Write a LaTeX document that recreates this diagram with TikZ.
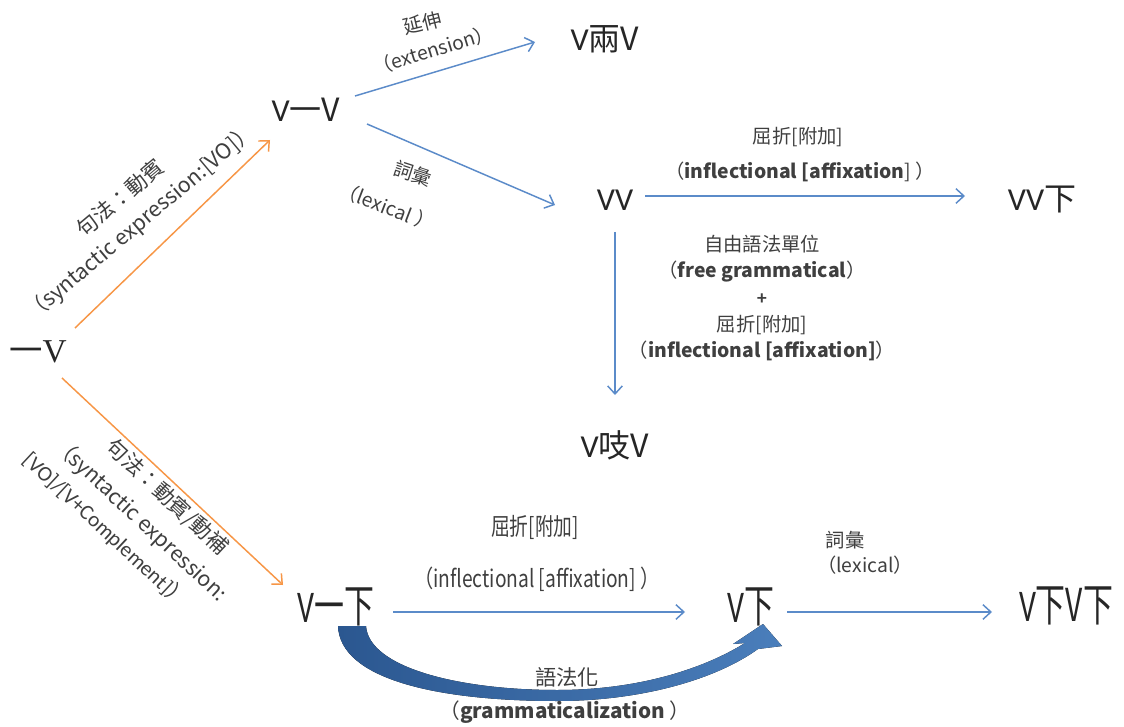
\documentclass[tikz,border=0pt]{standalone}
\usepackage{fontspec}
\setmainfont{Carlito}
\newfontfamily\cjk{Noto Sans CJK TC}
\newfontfamily\serifv{Liberation Serif}
\usetikzlibrary{arrows.meta}
\definecolor{orangec}{HTML}{F79646}
\definecolor{bluec}{HTML}{5B8BC9}
\definecolor{nodec}{HTML}{262626}
\definecolor{labc}{HTML}{3F3F3F}
\definecolor{arrdark}{HTML}{2B5790}
\definecolor{arrlight}{HTML}{4A7EBB}
\tikzset{
  lab/.style={text=labc, font=\fontsize{14.5}{20}\selectfont, inner sep=0pt, align=center},
  labbig/.style={text=labc, font=\fontsize{16}{23}\selectfont, inner sep=0pt, align=center},
  bigv/.style={text=nodec, font=\fontsize{24}{24}\selectfont, inner sep=0pt},
  condv/.style={text=nodec, font=\fontsize{34}{34}\selectfont, inner sep=0pt, xscale=0.66},
  barb/.style={-{Straight Barb[length=6pt,width=11pt,line width=1.1pt]}},
  blueline/.style={draw=bluec, line width=1.1pt, barb},
  orangeline/.style={draw=orangec, line width=1.1pt, barb}
}
\begin{document}
\begin{tikzpicture}[x=0.75pt,y=-0.75pt]
\useasboundingbox[fill=white] (0,0) rectangle (1124,727);

% nodes
\node[text=nodec, inner sep=0pt, font=\fontsize{25}{25}\selectfont] (yv) at (38,352) {\cjk{一}\serifv V};
\node[bigv] (vyv) at (306,110) {V\cjk{一}V};
\node[bigv] (vlv) at (605,39) {V\cjk{兩}V};
\node[bigv] (vv) at (615,200) {VV};
\node[bigv] (vvx) at (1042,200) {VV\cjk{下}};
\node[bigv] (vzv) at (615,445) {V\cjk{吱}V};
\node[condv] (vyx) at (336,607) {V\cjk{一下}};
\node[condv] (vx) at (751,607) {V\cjk{下}};
\node[condv] (vxvx) at (1066,606) {V\cjk{下}V\cjk{下}};

% connectors
\draw[orangeline] ([shift={(37,-24)}]yv.center) -- ([shift={(-36,30)}]vyv.center);
\draw[orangeline] ([shift={(24,26)}]yv.center) -- ([shift={(-53,-22)}]vyx.center);
\draw[blueline] ([shift={(49,-14)}]vyv.center) -- ([shift={(-70,3)}]vlv.center);
\draw[blueline] ([shift={(61,14)}]vyv.center) -- ([shift={(-60,5)}]vv.center);
\draw[blueline] ([shift={(30,-4)}]vv.center) -- ([shift={(-77,-4)}]vvx.center);
\draw[blueline] ([shift={(0,32)}]vv.center) -- ([shift={(0,-50)}]vzv.center);
\draw[blueline] ([shift={(57,5)}]vyx.center) -- ([shift={(-66,5)}]vx.center);
\draw[blueline] ([shift={(36,5)}]vx.center) -- ([shift={(-74,6)}]vxvx.center);

% big curved arrow (grammaticalization)
\fill[left color=arrdark, right color=arrlight]
  (338,626) -- (366,626)
  .. controls (369,668) and (460,690) .. (557,690)
  .. controls (640,690) and (705,668) .. (745,643)
  -- (733,644) -- (763,624) -- (782,646) -- (758,649)
  .. controls (715,680) and (640,701) .. (557,701)
  .. controls (440,701) and (340,680) .. (338,626) -- cycle;

% labels
\node[lab, rotate=14] (ext1) at (423,23) {\cjk{延伸}};
\node[lab, rotate=17] (ext2) at (433,50) {\cjk{（}extension\cjk{）}};
\node[lab, rotate=-18] (lex1) at (413,173) {\cjk{詞彙}};
\node[lab, rotate=-21] (lex2) at (387,207) {\cjk{（}lexical \cjk{）}};
\node[labbig, rotate=40] (syn1) at (131,211) {\cjk{句法：動賓}\\\cjk{（}syntactic expression:[VO]\cjk{）}};
\node[labbig, rotate=-43] (syn2a) at (167,497) {\cjk{句法：動賓/動補}};
\node[labbig, rotate=-43] (syn2b) at (140,520) {\cjk{（}syntactic expression:};
\node[labbig, rotate=-43] (syn2c) at (106,530) {[VO]/[V+Complement]\cjk{）}};

\node[lab] (inf1a) at (798,137) {\cjk{屈折[附加]}};
\node[lab] (inf1b) at (800,172) {\cjk{（}\textbf{inflectional [affixation}\cjk{]} \cjk{）}};

\node[lab, font=\fontsize{14.5}{20}\selectfont] (mid) at (762,298)
  {\cjk{自由語法單位}\\\cjk{（}\textbf{free grammatical}\cjk{）}\\\textbf{+}\\\cjk{屈折[附加]}\\\cjk{（}\textbf{inflectional [affixation]}\cjk{）}};

\node[lab, font=\fontsize{18}{18}\selectfont, xscale=0.78] (inf2a) at (535,527) {\cjk{屈折[附加]}};
\node[lab, font=\fontsize{18}{18}\selectfont, xscale=0.8] (inf2b) at (537,579) {\cjk{（}inflectional [affixation\cjk{]} \cjk{）}};

\node[lab] (lex3a) at (845,540) {\cjk{詞彙}};
\node[lab] (lex3b) at (865,565) {\cjk{（}lexical\cjk{）}};

\node[labbig] (gram1) at (567,677) {\cjk{語法化}};
\node[lab, font=\fontsize{15.5}{18}\selectfont] (gram2) at (565,712) {\cjk{（}\textbf{grammaticalization} \cjk{）}};
\end{tikzpicture}
\end{document}
